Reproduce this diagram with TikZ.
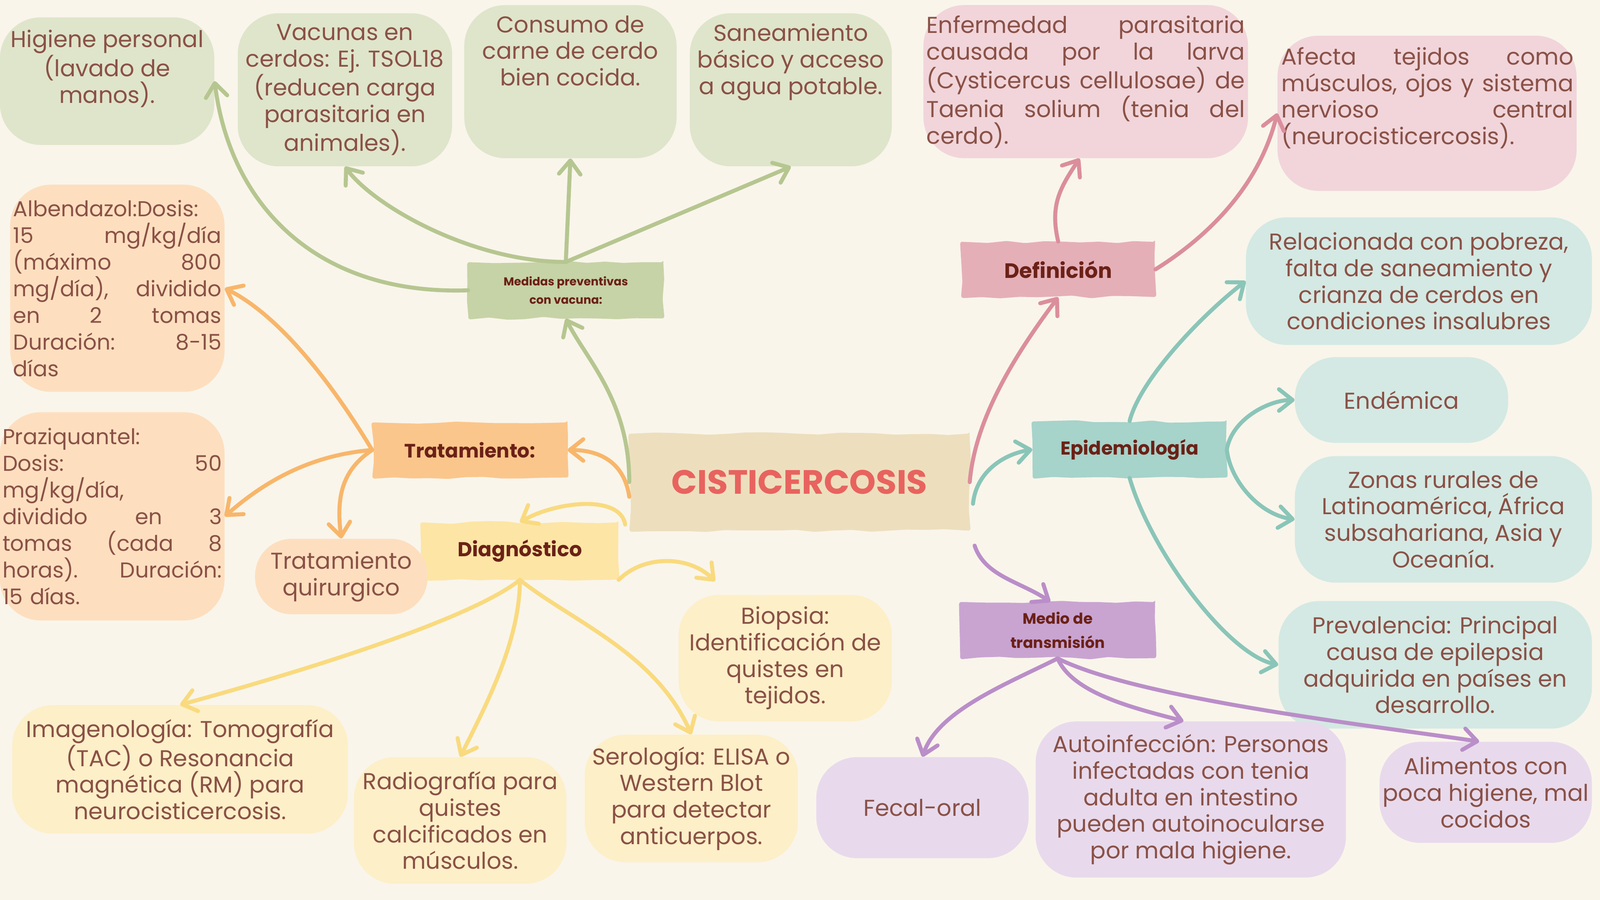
\documentclass[tikz,border=0pt]{standalone}
\usepackage{fontspec}
\setmainfont{Poppins}
\usetikzlibrary{arrows.meta,decorations.pathmorphing}

\definecolor{bgcream}{HTML}{F9F5EB}
\definecolor{txtbrown}{HTML}{8A5147}
\definecolor{hdrbrown}{HTML}{6B2117}
\definecolor{titlered}{HTML}{E8635F}
\definecolor{cenfill}{HTML}{EDDFBD}
\definecolor{grnlight}{HTML}{DFE5CA}
\definecolor{grnhdr}{HTML}{C6D3A6}
\definecolor{grnline}{HTML}{B6C690}
\definecolor{pnklight}{HTML}{F1D5DA}
\definecolor{pnkhdr}{HTML}{E5AFB8}
\definecolor{pnkline}{HTML}{DB8E9C}
\definecolor{tealight}{HTML}{D4E9E3}
\definecolor{teahdr}{HTML}{A6D3CA}
\definecolor{tealine}{HTML}{8AC5B8}
\definecolor{purlight}{HTML}{E8DAEC}
\definecolor{purhdr}{HTML}{C9A4D1}
\definecolor{purline}{HTML}{BA8EC8}
\definecolor{orglight}{HTML}{FDDFBF}
\definecolor{orghdr}{HTML}{FBC68B}
\definecolor{orgline}{HTML}{F8B66A}
\definecolor{yellight}{HTML}{FDEFC7}
\definecolor{yelhdr}{HTML}{FDE5A5}
\definecolor{yelline}{HTML}{F9DA7E}

\begin{document}
\begin{tikzpicture}[
    x=0.025cm, y=-0.025cm,
    box/.style={fill=#1, rounded corners=1cm, inner sep=1pt, align=center, text=txtbrown, font=\fontsize{16}{18.5}\selectfont},
    boxtext/.style={anchor=north, inner sep=0pt, align=center, text=txtbrown, font=\fontsize{16}{18.5}\selectfont},
    dosebox/.style={box=orglight, align=left, font=\fontsize{15}{18.6}\selectfont},
    rough/.style={decorate, decoration={random steps, segment length=0.45cm, amplitude=1pt}, rounded corners=1.5pt},
    hdr/.style={fill=#1, rough, text=hdrbrown, font=\bfseries\fontsize{13.5}{16}\selectfont, align=center, minimum width=4.775cm, minimum height=1.375cm},
    link/.style={draw=#1, line width=2.8pt, line cap=round, -{Straight Barb[length=9.5pt, width=15pt, round]}}
]
\useasboundingbox (0,0) rectangle (1568,882);
\fill[bgcream] (0,0) rectangle (1568,882);

% Centre
\node[fill=cenfill, rough, minimum width=8.325cm, minimum height=2.375cm, text=titlered, font=\bfseries\fontsize{23.5}{26}\selectfont] (cen) at (783.5,472.5) {CISTICERCOSIS};

% Header boxes
\node[hdr=grnhdr, font=\bfseries\fontsize{8}{12.8}\selectfont] (med) at (554.5,284.5) {Medidas preventivas\\con vacuna:};
\node[hdr=pnkhdr, minimum width=4.75cm, minimum height=1.35cm, font=\bfseries\fontsize{14.5}{16}\selectfont] (def) at (1037,264) {Definición};
\node[hdr=orghdr, minimum height=1.35cm] (tra) at (460.5,441) {Tratamiento:};
\node[hdr=yelhdr, minimum width=4.825cm, minimum height=1.4cm, font=\bfseries\fontsize{14}{16}\selectfont] (dia) at (509.5,540) {Diagnóstico};
\node[hdr=teahdr, minimum width=4.75cm, font=\bfseries\fontsize{13}{16}\selectfont] (epi) at (1107,440.5) {Epidemiología};
\node[hdr=purhdr, font=\bfseries\fontsize{10.5}{17}\selectfont] (mdt) at (1036.5,617.5) {Medio de\\transmisión};

% Medidas preventivas
\node[box=grnlight, minimum width=5.25cm, minimum height=3.125cm] (hig) at (105,79.5) {};
\node[boxtext] (higt) at (105,29) {Higiene personal\\(lavado de\\manos).};
\node[box=grnlight, minimum width=5.25cm, minimum height=3.75cm] (vac) at (338,88) {Vacunas en\\cerdos: Ej. TSOL18\\(reducen carga\\parasitaria en\\animales).};
\node[box=grnlight, minimum width=5.2cm, minimum height=3.75cm] (con) at (559,80) {};
\node[boxtext] (cont) at (559,15) {Consumo de\\carne de cerdo\\bien cocida.};
\node[box=grnlight, minimum width=4.95cm, minimum height=3.75cm] (san) at (775,88) {};
\node[boxtext] (sant) at (775,23) {Saneamiento\\básico y acceso\\a agua potable.};

% Definicion
\node[box=pnklight, minimum width=7.95cm, minimum height=3.75cm] (enf) at (1064,80) {};
\node[boxtext, align=left, text width=7.8cm] (enft) at (1064,15) {Enfermedad\hfill parasitaria\\causada\hfill por\hfill la\hfill larva\\(Cysticercus\hfill cellulosae)\hfill de\\Taenia\hfill solium\hfill (tenia\hfill del\\cerdo).};
\node[box=pnklight, minimum width=7.325cm, minimum height=3.8cm] (afe) at (1398.5,111) {};
\node[boxtext, align=left, text width=7.15cm] (afet) at (1399,46) {Afecta\hfill tejidos\hfill como\\músculos,\hfill ojos\hfill y\hfill sistema\\nervioso\hfill central\\(neurocisticercosis).};

% Epidemiologia
\node[box=tealight, minimum width=8.475cm, minimum height=3.125cm] (rel) at (1390.5,275.5) {Relacionada con pobreza,\\falta de saneamiento y\\crianza de cerdos en\\condiciones insalubres};
\node[box=tealight, minimum width=5.225cm, minimum height=2.1cm] (end) at (1373.5,392) {Endémica};
\node[box=tealight, minimum width=7.275cm, minimum height=3.1cm] (zon) at (1414.5,509) {Zonas rurales de\\Latinoamérica, África\\subsahariana, Asia y\\Oceanía.};
\node[box=tealight, minimum width=7.675cm, minimum height=3.125cm] (pre) at (1406.5,651.5) {Prevalencia: Principal\\causa de epilepsia\\adquirida en países en\\desarrollo.};

% Medio de transmision
\node[box=purlight, minimum width=5.2cm, minimum height=2.475cm] (fec) at (904,791.5) {Fecal-oral};
\node[box=purlight, minimum width=7.6cm, minimum height=3.825cm] (aut) at (1167,783.5) {Autoinfección: Personas\\infectadas con tenia\\adulta en intestino\\pueden autoinocularse\\por mala higiene.};
\node[box=purlight, minimum width=5.2cm, minimum height=2.475cm] (ali) at (1456,776.5) {Alimentos con\\poca higiene, mal\\cocidos};

% Diagnostico
\node[box=yellight, minimum width=5.225cm, minimum height=3.1cm] (bio) at (769.5,645) {Biopsia:\\Identificación de\\quistes en\\tejidos.};
\node[box=yellight, minimum width=8.225cm, minimum height=3.15cm] (ima) at (176.5,754) {Imagenología: Tomografía\\(TAC) o Resonancia\\magnética (RM) para\\neurocisticercosis.};
\node[box=yellight, minimum width=5.2cm, minimum height=3.1cm] (rad) at (451,804) {Radiografía para\\quistes\\calcificados en\\músculos.};
\node[box=yellight, minimum width=5.225cm, minimum height=3.125cm] (ser) at (677.5,782.5) {Serología: ELISA o\\Western Blot\\para detectar\\anticuerpos.};

% Tratamiento
\node[dosebox, text width=5.1cm, minimum width=5.25cm, minimum height=5.075cm] (alb) at (115,282.5) {Albendazol:Dosis:\\15\hfill mg/kg/día\\(máximo\hfill 800\\mg/día),\hfill dividido\\en\hfill 2\hfill tomas\\Duración:\hfill 8-15\\días};
\node[dosebox, text width=5.375cm, minimum width=5.5cm, minimum height=5.1cm] (pra) at (110,506) {Praziquantel:\\Dosis:\hfill 50\\mg/kg/día,\\dividido\hfill en\hfill 3\\tomas\hfill (cada\hfill 8\\horas).\hfill Duración:\\15 días.};
\node[box=orglight, rounded corners=0.9cm, minimum width=4.225cm, minimum height=1.85cm] (qui) at (334.5,565) {Tratamiento\\quirurgico};

% Green links
\draw[link=grnline] (med.west) .. controls +(-150,5) and +(15,120) .. (hig.east);
\draw[link=grnline] (med.north) .. controls +(-90,0) and +(30,40) .. (vac.south);
\draw[link=grnline] (med.north) -- (con.south);
\draw[link=grnline] (med.north) -- (san.south);
\draw[link=grnline] (cen.west) .. controls +(0,-80) and +(20,40) .. (med.south);

% Orange links
\draw[link=orgline] ([yshift=-0.36cm]cen.west) .. controls +(-5,-35) and +(30,0) .. (tra.east);
\draw[link=orgline] (tra.west) .. controls +(-30,-50) and +(60,30) .. (alb.east);
\draw[link=orgline] (tra.west) .. controls +(-60,5) and +(40,-35) .. (pra.east);
\draw[link=orgline] (tra.west) .. controls +(-30,20) and +(-5,-40) .. (qui.north);

% Yellow links
\draw[link=yelline] ([xshift=-0.1cm,yshift=-1.04cm]cen.west) .. controls +(-5,-30) and +(35,-20) .. (dia.north);
\draw[link=yelline] (dia.south east) .. controls +(25,-25) and +(-25,-25) .. ([xshift=0.9cm,yshift=0.33cm]bio.north west);
\draw[link=yelline] (dia.south) .. controls +(-50,40) and +(110,-30) .. (ima.north);
\draw[link=yelline] (dia.south) .. controls +(0,60) and +(25,-50) .. (rad.north);
\draw[link=yelline] (dia.south) .. controls +(50,40) and +(-35,-80) .. (ser.north);

% Pink links
\draw[link=pnkline] (cen.east) .. controls +(5,-60) and +(-45,60) .. (def.south);
\draw[link=pnkline] (def.north) .. controls +(-8,-35) and +(-20,30) .. ([xshift=-0.15cm]enf.south);
\draw[link=pnkline] (def.east) .. controls +(40,-25) and +(-20,80) .. (afe.west);

% Teal links
\draw[link=tealine] ([xshift=0.08cm,yshift=-0.53cm]cen.east) .. controls +(3,-30) and +(-30,5) .. (epi.west);
\draw[link=tealine] (epi.north) .. controls +(10,-40) and +(-45,35) .. (rel.west);
\draw[link=tealine] (epi.east) .. controls +(5,-30) and +(-25,0) .. (end.west);
\draw[link=tealine] (epi.east) .. controls +(3,30) and +(-35,-5) .. (zon.west);
\draw[link=tealine] (epi.south) .. controls +(20,70) and +(-50,-10) .. (pre.west);

% Purple links
\draw[link=purline] ([xshift=0.12cm,yshift=-0.36cm]cen.south east) .. controls +(10,30) and +(-30,-20) .. ([xshift=-0.18cm]mdt.north);
\draw[link=purline] (mdt.south) .. controls +(-50,25) and +(15,-45) .. (fec.north);
\draw[link=purline] (mdt.south) .. controls +(15,35) and +(-45,-12) .. ([xshift=-0.18cm]aut.north);
\draw[link=purline] (mdt.south) .. controls +(80,40) and +(-100,-15) .. ([xshift=-0.16cm]ali.north);

\end{tikzpicture}
\end{document}
